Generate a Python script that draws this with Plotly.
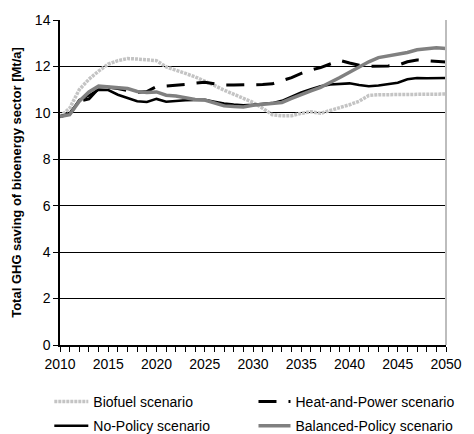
import plotly.graph_objects as go

years = list(range(2010, 2051))

biofuel = [9.84, 10.2, 11.0, 11.45, 11.8, 12.1, 12.25, 12.34, 12.32, 12.3,
           12.25, 11.98, 11.85, 11.7, 11.55, 11.38, 11.18, 10.98, 10.8, 10.62,
           10.45, 10.2, 9.92, 9.87, 9.88, 9.98, 10.05, 9.98, 10.1, 10.22,
           10.35, 10.5, 10.75, 10.78, 10.78, 10.78, 10.79, 10.8, 10.8, 10.8, 10.81]

heat_power = [9.84, 9.95, 10.5, 10.6, 11.05, 11.1, 11.05, 10.95, 10.88, 10.92,
              11.13, 11.15, 11.18, 11.22, 11.28, 11.32, 11.25, 11.2, 11.2, 11.2,
              11.22, 11.22, 11.25, 11.38, 11.52, 11.7, 11.85, 11.95, 12.1, 12.26,
              12.15, 12.05, 12.0, 12.0, 12.02, 12.05, 12.2, 12.28, 12.25, 12.22, 12.19]

no_policy = [9.84, 9.95, 10.55, 10.75, 11.0, 10.98, 10.78, 10.65, 10.5, 10.47,
             10.6, 10.48, 10.52, 10.54, 10.55, 10.56, 10.48, 10.4, 10.36, 10.33,
             10.35, 10.37, 10.42, 10.52, 10.7, 10.88, 11.02, 11.15, 11.22, 11.25,
             11.27, 11.2, 11.15, 11.18, 11.25, 11.3, 11.45, 11.5, 11.49, 11.5, 11.5]

balanced = [9.84, 9.92, 10.5, 10.9, 11.15, 11.12, 11.08, 11.05, 10.92, 10.88,
            10.9, 10.76, 10.73, 10.65, 10.58, 10.55, 10.42, 10.3, 10.27, 10.25,
            10.33, 10.37, 10.38, 10.45, 10.62, 10.8, 10.95, 11.1, 11.3, 11.52,
            11.75, 11.98, 12.2, 12.38, 12.45, 12.52, 12.6, 12.72, 12.76, 12.8, 12.77]

x_ticks = [2010, 2015, 2020, 2025, 2030, 2035, 2040, 2045, 2050]
y_ticks = [0, 2, 4, 6, 8, 10, 12, 14]

FONT = "Liberation Sans, Arial, sans-serif"

fig = go.Figure()
fig.add_trace(go.Scatter(x=years, y=biofuel, mode="lines", name="Biofuel scenario",
                         legend="legend", legendgroup="a",
                         line=dict(color="#c4c4c4", width=3.5, dash="3px,1px")))
fig.add_trace(go.Scatter(x=years, y=heat_power, mode="lines", name="Heat-and-Power scenario",
                         legend="legend2", legendgroup="b",
                         line=dict(color="#000000", width=3, dash="18px,12px")))
fig.add_trace(go.Scatter(x=years, y=no_policy, mode="lines", name="No-Policy scenario",
                         legend="legend", legendgroup="c",
                         line=dict(color="#000000", width=2.5)))
fig.add_trace(go.Scatter(x=years, y=balanced, mode="lines", name="Balanced-Policy scenario",
                         legend="legend2", legendgroup="d",
                         line=dict(color="#808080", width=3.5)))

fig.add_shape(type="line", xref="paper", yref="paper", x0=1, x1=1, y0=0, y1=1,
              line=dict(color="#bdbdbd", width=2))

PW, PH = 397, 332
leg_common = dict(orientation="v", xanchor="left", yanchor="top",
                  xref="paper", yref="container",
                  font=dict(family=FONT, size=14),
                  tracegroupgap=3, bgcolor="rgba(0,0,0,0)")

fig.update_layout(
    width=474, height=434,
    margin=dict(l=60, r=17, t=13, b=89),
    paper_bgcolor="white", plot_bgcolor="white",
    font=dict(family=FONT, size=14, color="black"),
    showlegend=True,
    legend=dict(x=(49 - 60) / PW, y=1 - 386 / 434, itemwidth=34, **leg_common),
    legend2=dict(x=(259 - 60) / PW, y=1 - 386 / 434, itemwidth=32, **leg_common),
    xaxis=dict(range=[2010, 2050], tickvals=x_ticks, ticks="outside", ticklen=5,
               tickcolor="black", showline=True, linecolor="black", linewidth=1.5,
               showgrid=False, zeroline=False,
               minor=dict(dtick=1, tick0=2010, ticks="outside", ticklen=5, tickcolor="black", showgrid=False),
               tickfont=dict(size=14)),
    yaxis=dict(range=[0, 14], tickvals=y_ticks, ticks="outside", ticklen=5,
               tickcolor="black", showline=True, linecolor="black", linewidth=1.5,
               showgrid=True, gridcolor="black", gridwidth=1, zeroline=False,
               tickfont=dict(size=14),
               title=dict(text="<b>Total GHG saving of bioenergy sector [Mt/a]</b>",
                          font=dict(size=13), standoff=10)),
)

fig.write_html("out.html")
